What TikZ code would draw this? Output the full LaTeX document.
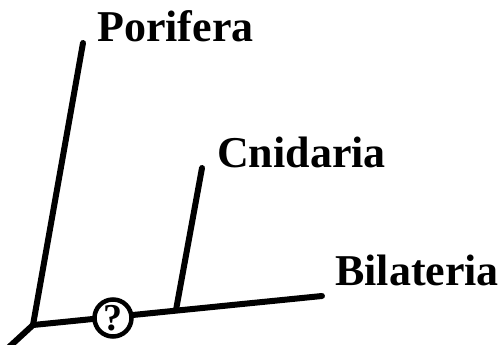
\documentclass[tikz,border=0pt]{standalone}
\usepackage{fontspec}
\setmainfont{Liberation Serif}
\begin{document}
\begin{tikzpicture}[x=1pt,y=-1pt,
  branch/.style={line width=6pt,line cap=round},
  taxon/.style={anchor=base west,inner sep=0pt,font=\fontsize{44}{48}\selectfont\bfseries},
  qmark/.style={circle,draw,line width=4.5pt,fill=white,minimum size=37pt,inner sep=0pt,font=\fontsize{38}{40}\selectfont\bfseries}]
\useasboundingbox (0,0) rectangle (503,345);
\coordinate (root) at (8,348);
\coordinate (j1) at (33,325);
\coordinate (ptop) at (83,43);
\coordinate (btip) at (322,296);
\coordinate (j2) at (176,310);
\coordinate (ctop) at (202,168);
\draw[branch] (root) -- (j1);
\draw[branch] (j1) -- (ptop);
\draw[branch] (j1) -- (btip);
\draw[branch] (j2) -- (ctop);
\node[qmark] (q) at (113,318) {?};
\node[taxon] (por) at (97,42) {Porifera};
\node[taxon] (cni) at (217,167) {Cnidaria};
\node[taxon] (bil) at (335,285) {Bilateria};
\end{tikzpicture}
\end{document}
